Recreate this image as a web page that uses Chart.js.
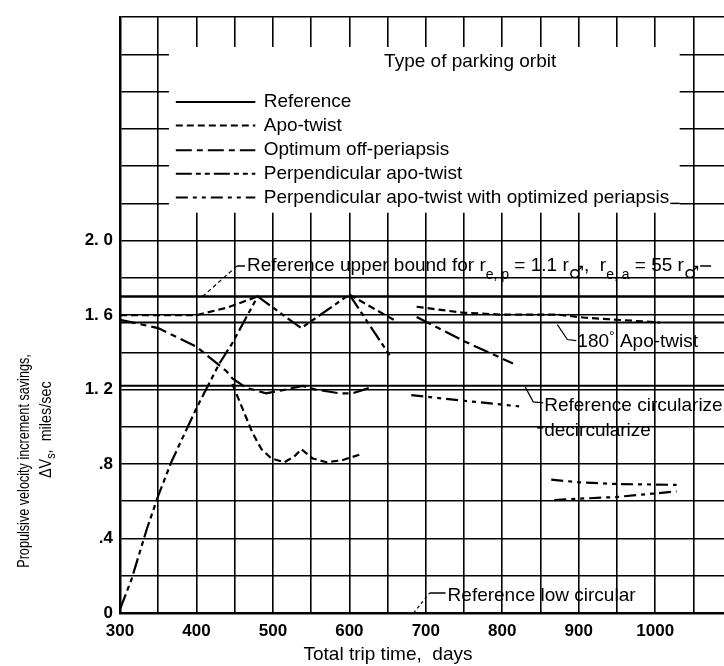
<!DOCTYPE html>
<html>
<head>
<meta charset="utf-8">
<script src="https://cdn.jsdelivr.net/npm/chart.js@4.4.1/dist/chart.umd.min.js"></script>
<style>
    html, body { margin: 0; padding: 0; background: #fff; }
    #mycanvas { display: block; }
</style>
</head>
<body>
<canvas id="mycanvas" width="724" height="666"></canvas>
<script>
// axes
var xGrid = [300, 350, 400, 450, 500, 550, 600, 650, 700, 750, 800, 850, 900, 950, 1000, 1050];
var xTickLabels = [300, 400, 500, 600, 700, 800, 900, 1000];
var yGrid = [0, 0.2, 0.4, 0.6, 0.8, 1.0, 1.2, 1.4, 1.6, 1.8, 2.0, 2.2, 2.4, 2.6, 2.8, 3.0, 3.2];
var yTickValues = [0, 0.4, 0.8, 1.2, 1.6, 2.0];
var yTickTexts = ['0', '.4', '.8', '1. 2', '1. 6', '2. 0'];

// reference levels, miles/sec
var refUpperBound = 1.70;
var ref180ApoTwist = 1.56;
var refCircDecirc = 1.22;

// apo-twist (null = break in the curve)
var apoDays = [300, 350, 400, 440, 480, null, 600, 660, null,
    447, 460, 473, 485, 498, 515, 528, 537, 552, 570, 590, 613, null,
    688, 748, 797, 872, 906, 1006];
var apoDv = [1.60, 1.60, 1.60, 1.64, 1.70, null, 1.71, 1.57, null,
    1.23, 1.10, 0.97, 0.88, 0.83, 0.81, 0.84, 0.88, 0.83, 0.81, 0.82, 0.85, null,
    1.645, 1.613, 1.603, 1.603, 1.587, 1.56];

// optimum off-periapsis
var optDays = [300, 350, 400, 439, 447, 465, 491, 517, 539, 556, 587, 604, 631, null, 688, 750, 814];
var optDv = [1.575, 1.53, 1.43, 1.30, 1.26, 1.21, 1.18, 1.20, 1.22, 1.20, 1.18, 1.18, 1.215, null, 1.59, 1.46, 1.34];

// perpendicular apo-twist
var perpDays = [300, 315, 335, 350, 367, 400, 430, 447, 480, 537, 600, 655];
var perpDv = [0.02, 0.18, 0.45, 0.63, 0.81, 1.10, 1.34, 1.45, 1.70, 1.53, 1.71, 1.37];

// perpendicular apo-twist with optimized periapsis
var perpOptDays = [681, 750, 822, null, 864, 901, 949, 1028, null, 868, 901, 949, 1028];
var perpOptDv = [1.17, 1.14, 1.11, null, 0.716, 0.702, 0.693, 0.688, null, 0.606, 0.614, 0.623, 0.653];

var legendLabels = ['Reference', 'Apo-twist', 'Optimum off-periapsis', 'Perpendicular apo-twist',
    'Perpendicular apo-twist with optimized periapsis'];

var dashes = {
    ref: [],
    apo: [7, 4],
    opt: [16, 5, 6, 5],
    perp: [16, 4, 5, 4, 5, 4],
    perpOpt: [12, 5, 4, 5, 4, 5]
};
var legendDash = [dashes.ref, dashes.apo, dashes.opt, dashes.perp, dashes.perpOpt];

var textFont = '"Liberation Sans", Arial, sans-serif';

function pts(days, vals) {
    return days.map(function (d, i) { return { x: d, y: vals[i] }; });
}

function flat(v, w) {
    return {
        data: [{ x: 300, y: v }, { x: 1090, y: v }],
        borderColor: '#000', borderWidth: w, borderDash: dashes.ref
    };
}

function curve(days, vals, dash) {
    return {
        data: pts(days, vals),
        borderColor: '#000', borderWidth: 2.2, borderDash: dash
    };
}

function richText(ctx, parts, x, y) {
    parts.forEach(function (p) {
        ctx.font = p.font;
        ctx.fillText(p.t, x, y + (p.dy || 0));
        x += ctx.measureText(p.t).width;
    });
    return x;
}

function seg(ctx, pointsXY, dash, w) {
    ctx.beginPath();
    ctx.setLineDash(dash || []);
    ctx.lineWidth = w || 1.2;
    ctx.moveTo(pointsXY[0][0], pointsXY[0][1]);
    for (var i = 1; i < pointsXY.length; i++) ctx.lineTo(pointsXY[i][0], pointsXY[i][1]);
    ctx.stroke();
    ctx.setLineDash([]);
}

var legendBox = {
    id: 'legendBox',
    beforeDatasetsDraw: function (chart) {
        var ctx = chart.ctx, xs = chart.scales.x, ys = chart.scales.y;
        var l = xs.getPixelForValue(364), r = xs.getPixelForValue(1032);
        var t = ys.getPixelForValue(3.04), b = ys.getPixelForValue(2.15);
        ctx.save();
        ctx.fillStyle = '#fff';
        ctx.fillRect(l, t, r - l, b - t);

        ctx.fillStyle = '#000';
        ctx.strokeStyle = '#000';
        ctx.textBaseline = 'middle';
        ctx.font = '19px ' + textFont;
        ctx.textAlign = 'center';
        ctx.fillText('Type of parking orbit', xs.getPixelForValue(758), ys.getPixelForValue(2.962));

        ctx.textAlign = 'left';
        var rows = [2.745, 2.618, 2.486, 2.359, 2.232];
        var endX = 0;
        for (var i = 0; i < legendLabels.length; i++) {
            var yy = ys.getPixelForValue(rows[i]);
            seg(ctx, [[xs.getPixelForValue(373), yy], [xs.getPixelForValue(477), yy]], legendDash[i], 2);
            ctx.fillText(legendLabels[i], xs.getPixelForValue(488), yy);
            endX = xs.getPixelForValue(488) + ctx.measureText(legendLabels[i]).width;
        }
        // last entry runs into the 2.2 grid line
        var gy = ys.getPixelForValue(2.2);
        seg(ctx, [[endX + 1, gy], [r, gy]], [], 1.5);
        ctx.restore();
    }
};

var notes = {
    id: 'notes',
    afterDatasetsDraw: function (chart) {
        var ctx = chart.ctx, xs = chart.scales.x, ys = chart.scales.y;
        var big = '19px ' + textFont, small = '14px ' + textFont, mars = '17px "DejaVu Sans", sans-serif';
        ctx.save();
        ctx.fillStyle = '#000';
        ctx.strokeStyle = '#000';
        ctx.textBaseline = 'alphabetic';
        ctx.textAlign = 'left';

        // reference upper bound
        var ux = xs.getPixelForValue(408), uy = ys.getPixelForValue(refUpperBound);
        seg(ctx, [[ux, uy], [237, 266]], [4, 3], 1.2);
        seg(ctx, [[237, 266], [245, 266]], [], 1.5);
        var ex = richText(ctx, [
            { t: 'Reference upper bound for r', font: big },
            { t: 'e, p', font: small, dy: 8 },
            { t: ' = 1.1 r', font: big },
            { t: '\u2642', font: mars, dy: 7 },
            { t: ',  r', font: big },
            { t: 'e, a', font: small, dy: 8 },
            { t: ' = 55 r', font: big },
            { t: '\u2642', font: mars, dy: 7 }
        ], 247, 271);
        seg(ctx, [[ex + 1, 266], [ex + 12, 266]], [], 1.5);

        // 180 deg apo-twist
        var ax = xs.getPixelForValue(872), ay = ys.getPixelForValue(ref180ApoTwist);
        seg(ctx, [[ax, ay + 2], [ax + 10, ay + 17], [ax + 19, ay + 18]], [], 1.2);
        richText(ctx, [
            { t: '180', font: big },
            { t: '\u00b0', font: small, dy: -6 },
            { t: ' Apo-twist', font: big }
        ], ax + 20, ay + 24);

        // reference circularize decircularize
        var cx = xs.getPixelForValue(830), cy = ys.getPixelForValue(refCircDecirc);
        seg(ctx, [[cx, cy + 1], [cx + 8, cy + 16], [cx + 18, cy + 17]], [], 1.2);
        ctx.font = big;
        ctx.fillText('Reference circularize', cx + 19, cy + 25);
        seg(ctx, [[cx + 12, cy + 42], [cx + 18, cy + 42]], [], 1.5);
        ctx.fillText('decircularize', cx + 19, cy + 50);

        // reference low circular
        var lx = xs.getPixelForValue(684), ly = ys.getPixelForValue(0);
        seg(ctx, [[lx, ly], [lx + 16, ly - 20]], [3, 3], 1.2);
        seg(ctx, [[lx + 16, ly - 20], [lx + 32, ly - 20]], [], 1.5);
        ctx.font = big;
        ctx.fillText('Reference low circular', lx + 34, ly - 12);

        // axis titles
        ctx.font = big;
        ctx.textAlign = 'center';
        ctx.fillText('Total trip time,  days', 388, 660);

        // y title, squeezed along the text to match the condensed lettering
        ctx.save();
        ctx.translate(29, 461);
        ctx.rotate(-Math.PI / 2);
        ctx.scale(0.79, 1);
        ctx.font = '16px ' + textFont;
        ctx.fillText('Propulsive velocity increment savings,', 0, 0);
        ctx.restore();

        ctx.save();
        ctx.translate(51, 478);
        ctx.rotate(-Math.PI / 2);
        ctx.scale(0.9, 1);
        ctx.textAlign = 'left';
        richText(ctx, [
            { t: '\u0394V', font: '16px ' + textFont },
            { t: 's', font: '12px ' + textFont, dy: 4 },
            { t: ',  miles/sec', font: '16px ' + textFont }
        ], 0, 0);
        ctx.restore();
        ctx.restore();
    }
};

var datasets = [
    flat(refUpperBound, 2.6),
    flat(ref180ApoTwist, 2),
    flat(refCircDecirc, 2),
    curve(apoDays, apoDv, dashes.apo),
    curve(optDays, optDv, dashes.opt),
    curve(perpDays, perpDv, dashes.perp),
    curve(perpOptDays, perpOptDv, dashes.perpOpt)
];

var tickFont = { family: textFont, size: 17, weight: 'bold' };

var ctx = document.getElementById('mycanvas');
var chart = new Chart(ctx, {
    type: 'line',
    data: { datasets: datasets },
    options: {
        responsive: false,
        animation: false,
        devicePixelRatio: 1,
        layout: { padding: { top: 8, right: 0, left: 0, bottom: 0 } },
        elements: { point: { radius: 0 }, line: { tension: 0 } },
        plugins: { legend: { display: false }, tooltip: { enabled: false } },
        scales: {
            x: {
                type: 'linear', min: 300, max: 1090,
                afterBuildTicks: function (s) { s.ticks = xGrid.map(function (v) { return { value: v }; }); },
                afterFit: function (s) { s.height = 53; },
                ticks: {
                    autoSkip: false, maxRotation: 0, padding: 8, color: '#000', font: tickFont,
                    callback: function (v) { return xTickLabels.indexOf(v) >= 0 ? String(v) : ''; }
                },
                grid: { color: '#000', lineWidth: 1.6, drawTicks: false },
                border: { color: '#000', width: 2.5 }
            },
            y: {
                min: 0, max: 3.2,
                afterBuildTicks: function (s) { s.ticks = yGrid.map(function (v) { return { value: v }; }); },
                afterFit: function (s) { s.width = 120; },
                ticks: {
                    autoSkip: false, padding: 7, color: '#000', font: tickFont,
                    callback: function (v) {
                        for (var i = 0; i < yTickValues.length; i++) {
                            if (Math.abs(yTickValues[i] - v) < 1e-6) return yTickTexts[i];
                        }
                        return '';
                    }
                },
                grid: { color: '#000', lineWidth: 1.6, drawTicks: false },
                border: { color: '#000', width: 2.5 }
            }
        }
    },
    plugins: [legendBox, notes]
});
</script>
</body>
</html>
